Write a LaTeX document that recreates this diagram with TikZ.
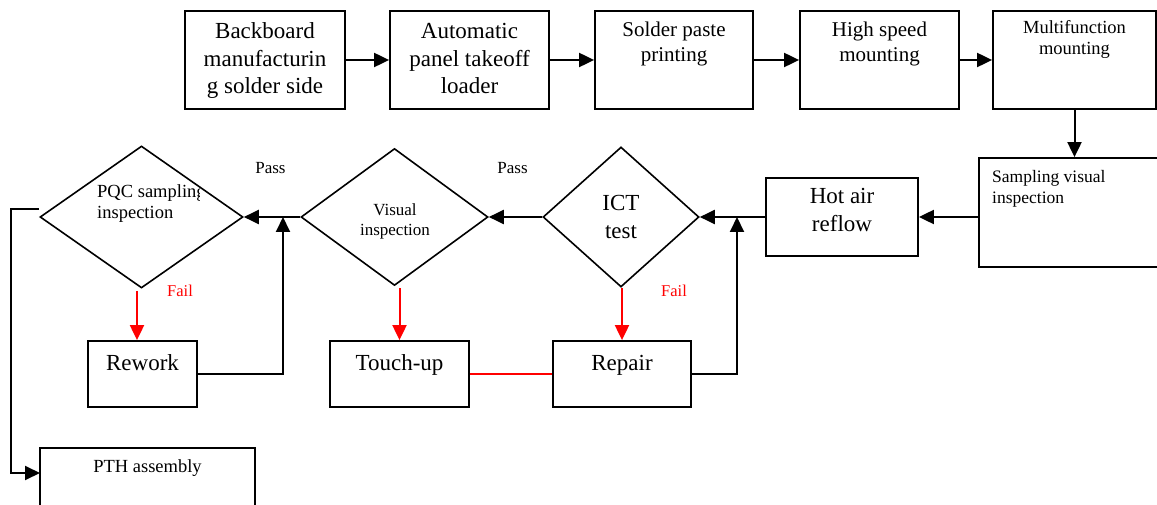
\documentclass[tikz,border=0pt]{standalone}
\usepackage{fontspec}
\setmainfont{Liberation Serif}
\usetikzlibrary{arrows.meta,shapes.geometric,calc}
\newcommand{\fzA}{\fontsize{23}{27.5}\selectfont}
\newcommand{\fzB}{\fontsize{21}{25}\selectfont}
\newcommand{\fzC}{\fontsize{18.5}{21}\selectfont}
\newcommand{\fzD}{\fontsize{17.5}{20.5}\selectfont}
\newcommand{\fzE}{\fontsize{17}{20}\selectfont}
\newcommand{\fzF}{\fontsize{16.5}{20}\selectfont}
\newcommand{\mlines}[2]{\begin{tabular}[t]{@{}#1@{}}#2\end{tabular}}
\begin{document}
\begin{tikzpicture}[x=1pt,y=-1pt,
  box/.style={draw, line width=1.8pt, inner sep=0pt},
  dia/.style={draw, diamond, line width=1.6pt, inner sep=0pt},
  arr/.style={line width=2pt, -{Triangle[length=15pt,width=14pt]}},
  redarr/.style={draw=red, line width=2pt, -{Triangle[length=15pt,width=14pt]}},
  lbl/.style={inner sep=0pt, anchor=base}]
\useasboundingbox (0,0) rectangle (1157,505);
\clip (0,0) rectangle (1157,505);

% top row boxes
\node[box, minimum width=160pt, minimum height=98pt] (b1) at (265,60) {};
\node[box, minimum width=159pt, minimum height=98pt] (b2) at (469.5,60) {};
\node[box, minimum width=158pt, minimum height=98pt] (b3) at (674,60) {};
\node[box, minimum width=159pt, minimum height=98pt] (b4) at (879.5,60) {};
\node[box, minimum width=163pt, minimum height=98pt] (b5) at (1074.5,60) {};
% middle row
\node[box, minimum width=191pt, minimum height=109pt] (samp) at (1074.5,212.5) {};
\node[box, minimum width=152pt, minimum height=78pt] (hot) at (842,217) {};
\node[dia, minimum width=156pt, minimum height=140pt] (ict) at (621,217) {};
\node[dia, minimum width=187pt, minimum height=137pt] (vis) at (394.5,217) {};
\node[dia, minimum width=203pt, minimum height=142pt] (pqc) at (141.5,217) {};
% bottom row
\node[box, minimum width=109pt, minimum height=66pt] (rework) at (142.5,374) {};
\node[box, minimum width=139pt, minimum height=66pt] (touch) at (399.5,374) {};
\node[box, minimum width=138pt, minimum height=66pt] (repair) at (622,374) {};
\node[box, minimum width=215pt, minimum height=72pt] (pth) at (147.5,484) {};

% texts
\node[lbl, font=\fzA] (t1) at (265,39) {\mlines{c}{Backboard\\manufacturin\\g solder side}};
\node[lbl, font=\fzA] (t2) at (469.5,39) {\mlines{c}{Automatic\\panel takeoff\\loader}};
\node[lbl, font=\fzB] (t3) at (674,37) {\mlines{c}{Solder paste\\printing}};
\node[lbl, font=\fzB] (t4) at (879.5,37) {\mlines{c}{High speed\\mounting}};
\node[lbl, font=\fzC] (t5) at (1074.5,34) {\mlines{c}{Multifunction\\mounting}};
\node[lbl, anchor=base west, font=\fzD] (t6) at (992,183) {\mlines{l}{Sampling visual\\inspection}};
\node[lbl, font=\fzA] (t7) at (842,204) {\mlines{c}{Hot air\\reflow}};
\node[lbl, font=\fzA] (t8) at (621,211) {\mlines{c}{ICT\\test}};
\node[lbl, font=\fzE] (t9) at (395,216) {\mlines{c}{Visual\\inspection}};
\begin{scope}
\clip (90,170) rectangle (199,235);
\node[lbl, anchor=base west, font=\fzC] (t10) at (97,198) {\mlines{l}{PQC sampling\\inspection}};
\end{scope}
\node[lbl, font=\fzE] (p1) at (270.5,174) {Pass};
\node[lbl, font=\fzE] (p2) at (512.5,174) {Pass};
\node[lbl, anchor=base west, font=\fzF, text=red] (f1) at (167,296) {Fail};
\node[lbl, anchor=base west, font=\fzF, text=red] (f2) at (661,297) {Fail};
\node[lbl, font=\fzA] (t11) at (142.5,370) {Rework};
\node[lbl, font=\fzA] (t12) at (399.5,370) {Touch-up};
\node[lbl, font=\fzA] (t13) at (622,370) {Repair};
\node[lbl, font=\fzC] (t14) at (147.5,472) {PTH assembly};

% connectors
\draw[arr] (b1.east) -- (b2.west);
\draw[arr] (b2.east) -- (b3.west);
\draw[arr] (b3.east) -- (b4.west);
\draw[arr] (b4.east) -- (b5.west);
\draw[arr] (b5.south) -- (samp.north);
\draw[arr] (samp.west |- hot.east) -- (hot.east);
\draw[arr] (hot.west) -- (ict.east);
\draw[arr] (ict.west) -- (vis.east);
\draw[arr] (vis.west) -- (pqc.east);
\coordinate (j1) at (737,217);
\coordinate (j2) at (283,217);
\coordinate (pthin) at (40,473);
\draw[arr] (repair.east) -| (j1);
\draw[arr] (rework.east) -| (j2);
\draw[redarr] ($(pqc.south)+(-4.5,2)$) -- ($(rework.north)+(-5.5,0)$);
\draw[redarr] ($(touch.north |- vis.south)+(0,2)$) -- (touch.north);
\draw[redarr] (repair.north |- ict.south) -- (repair.north);
\draw[red, line width=1.5pt] (touch.east) -- (repair.west);
\draw[arr] ($(pqc.west)+(0,-8)$) -- ++(-28,0) |- (pthin);
\end{tikzpicture}
\end{document}
